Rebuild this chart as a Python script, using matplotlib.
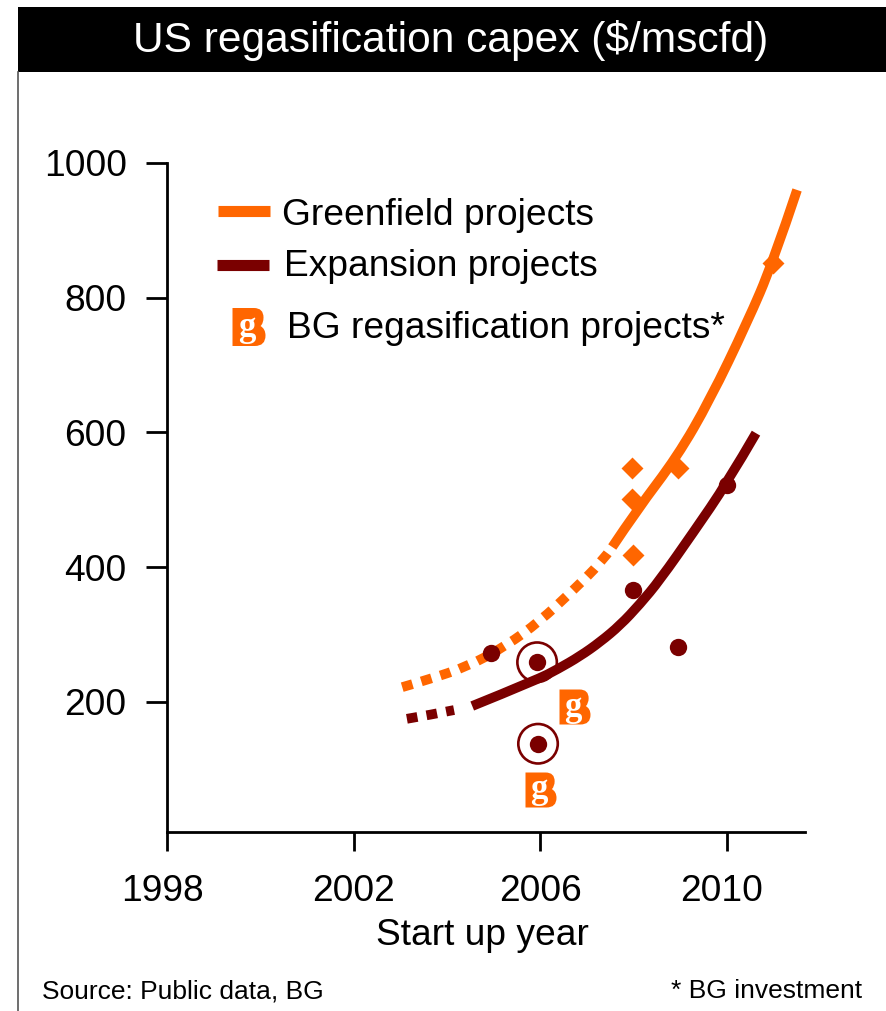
import matplotlib
matplotlib.use("Agg")
import matplotlib.pyplot as plt
from matplotlib.patches import PathPatch, Rectangle
from matplotlib.path import Path
from matplotlib.transforms import ScaledTranslation

plt.rcParams['font.family'] = ['Liberation Sans', 'DejaVu Sans']

W, H = 886, 1011
ORANGE = '#ff6600'
MAROON = '#7a0000'

green_dot_x = [2003.04, 2003.59, 2004.45, 2005.26, 2005.99, 2006.66, 2007.32, 2007.54]
green_dot_y = [222, 233, 253, 283, 320, 363, 408, 430]
green_x = [2007.54, 2008.07, 2008.93, 2009.63, 2010.43, 2010.98, 2011.5]
green_y = [430, 485, 564, 648, 763, 852, 960]

exp_dot_x = [2003.14, 2003.65, 2004.15]
exp_dot_y = [175, 181, 188]
exp_x = [2004.54, 2005.93, 2006.38, 2006.85, 2007.28, 2007.71, 2008.13, 2008.56, 2009.27, 2010.0, 2010.62]
exp_y = [194, 233, 249, 268, 289, 314, 345, 381, 451, 525, 599]

diamond_x = [2007.96, 2007.96, 2007.98, 2008.95, 2010.98]
diamond_y = [547, 501, 418, 547, 852]

circle_x = [2004.94, 2005.93, 2005.95, 2007.98, 2008.95, 2010.0]
circle_y = [273, 259, 138, 366, 282, 522]

ring_x = [2005.93, 2005.95]
ring_y = [259, 138]

xticks = [1998, 2002, 2006, 2010]
yticks = [200, 400, 600, 800, 1000]


def px(x, y):
    return x / W, 1 - y / H


def smooth_path(xs, ys):
    # quadratic beziers through the midpoints, so the read points give a smooth line
    pts = list(zip(xs, ys))
    verts = [pts[0]]
    codes = [Path.MOVETO]
    for i in range(1, len(pts) - 1):
        mid = ((pts[i][0] + pts[i + 1][0]) / 2, (pts[i][1] + pts[i + 1][1]) / 2)
        if i == len(pts) - 2:
            mid = pts[-1]
        verts += [pts[i], mid]
        codes += [Path.CURVE3, Path.CURVE3]
    return Path(verts, codes)


def curve(ax, xs, ys, color, dotted=False):
    ls = (0, (1.1, 0.95)) if dotted else '-'
    ax.add_patch(PathPatch(smooth_path(xs, ys), fc='none', ec=color, lw=7, linestyle=ls,
                           capstyle='butt', zorder=2))


def bg_logo(fig, cx, cy, w=32, h=37):
    # orange B shape with a white g in it
    verts = [(-1, -1), (0.3, -1), (0.88, -1), (0.88, -0.5), (0.88, -0.2), (0.7, -0.05),
             (1, 0.1), (1, 0.45), (1, 1), (0.35, 1), (-1, 1), (-1, -1)]
    codes = [Path.MOVETO, Path.LINETO, Path.CURVE3, Path.CURVE3, Path.CURVE3, Path.CURVE3,
             Path.CURVE3, Path.CURVE3, Path.CURVE3, Path.CURVE3, Path.LINETO, Path.CLOSEPOLY]
    pts = [px(cx + a * w / 2, cy + b * h / 2) for a, b in verts]
    fig.add_artist(PathPatch(Path(pts, codes), transform=fig.transFigure, fc=ORANGE, ec='none', zorder=5))
    fig.text(*px(cx - 2, cy), 'g', color='white', fontsize=25, family='Liberation Serif',
             fontweight='bold', ha='center', va='center', zorder=6)


fig = plt.figure(figsize=(W / 100, H / 100), dpi=100)
ax = fig.add_axes([167 / W, 1 - 832 / H, (805 - 167) / W, (832 - 163) / H])
ax.set_xlim(1998, 2011.67)
ax.set_ylim(7, 1000)
ax.patch.set_alpha(0)

curve(ax, green_x, green_y, ORANGE)
curve(ax, green_dot_x, green_dot_y, ORANGE, dotted=True)
curve(ax, exp_x, exp_y, MAROON)
curve(ax, exp_dot_x, exp_dot_y, MAROON, dotted=True)

ax.scatter(diamond_x, diamond_y, marker='D', s=125, color=ORANGE, linewidths=0, zorder=1.8)
ax.scatter(circle_x, circle_y, marker='o', s=156, color=MAROON, linewidths=0, zorder=4)
ax.scatter(ring_x, ring_y, marker='o', s=808, facecolors='none', edgecolors=MAROON, linewidths=1.9, zorder=1.5)

for side in ['top', 'right']:
    ax.spines[side].set_visible(False)
for side in ['left', 'bottom']:
    ax.spines[side].set_linewidth(2)
ax.set_xticks(xticks)
ax.set_yticks(yticks)
ax.tick_params(axis='x', length=14, width=2, labelsize=26.7, pad=16)
ax.tick_params(axis='y', length=15, width=2, labelsize=26.7, pad=14)
ax.set_xlabel('Start up year', fontsize=26.7, labelpad=7, x=0.495)

# the outer year labels sit a little left of their ticks in the original
for lab, shift in zip(ax.get_xticklabels(), [-5, 0, 0, -5]):
    lab.set_transform(lab.get_transform() + ScaledTranslation(shift / 100, 0, fig.dpi_scale_trans))

# title bar and frame
fig.add_artist(Rectangle(px(18, 72), (W - 18) / W, 65 / H, transform=fig.transFigure, fc='black', ec='none'))
fig.add_artist(plt.Line2D([18 / W, 18 / W], [1 - 72 / H, 0], color='#555555', lw=1.2))
fig.text(*px(451, 52), 'US regasification capex ($/mscfd)', color='white', fontsize=30.6, ha='center', va='baseline')

# legend
fig.add_artist(plt.Line2D([218 / W, 270 / W], [1 - 211 / H] * 2, color=ORANGE, lw=8, solid_capstyle='butt'))
fig.add_artist(plt.Line2D([217 / W, 269 / W], [1 - 265 / H] * 2, color=MAROON, lw=8, solid_capstyle='butt'))
fig.text(*px(282, 225), 'Greenfield projects', fontsize=26.7, va='baseline')
fig.text(*px(284, 276), 'Expansion projects', fontsize=26.7, va='baseline')
fig.text(*px(287, 338), 'BG regasification projects*', fontsize=26.7, va='baseline')

bg_logo(fig, 249, 327, 33, 38)
bg_logo(fig, 575, 707, 31, 35)
bg_logo(fig, 541, 790, 31, 35)

fig.text(*px(42, 998), 'Source: Public data, BG', fontsize=19, va='baseline')
fig.text(*px(862, 998), '* BG investment', fontsize=19, va='baseline', ha='right')

fig.savefig('out.png', dpi=100)
